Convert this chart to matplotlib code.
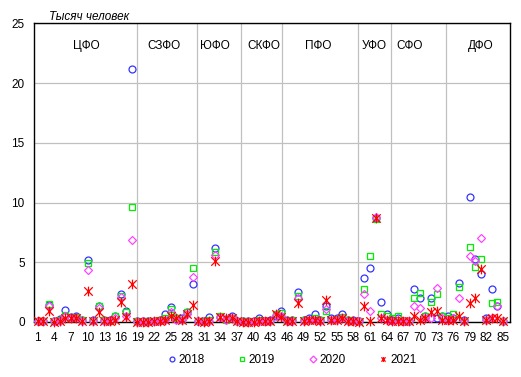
import matplotlib.pyplot as plt
from matplotlib.lines import Line2D
from matplotlib.path import Path

plt.rcParams['font.family'] = ['Liberation Sans', 'DejaVu Sans']
plt.rcParams['font.size'] = 8.5

regions = list(range(1, 86))
years = ["2018", "2019", "2020", "2021"]
districts = ["ЦФО", "СЗФО", "ЮФО", "СКФО", "ПФО", "УФО", "СФО", "ДФО"]
district_label_x = [9.7, 23.8, 33.0, 41.9, 51.7, 61.7, 68.1, 80.9]
district_bounds = [19.0, 29.85, 37.75, 45.1, 58.75, 64.75, 74.75]

# thousand people, by region (ЦФО, СЗФО, ЮФО, СКФО, ПФО, УФО, СФО, ДФО)
v2018 = [0.1, 0.1, 1.4, 0.1, 0.25, 1.0, 0.4, 0.5, 0.2, 5.2, 0.15, 1.3, 0.2, 0.15, 0.5, 2.3, 0.9, 21.2,
         0.05, 0.05, 0.05, 0.1, 0.2, 0.65, 1.25, 0.3, 0.3, 0.8, 3.2,
         0.1, 0.05, 0.4, 6.2, 0.4, 0.25, 0.5, 0.1,
         0.1, 0.05, 0.05, 0.3, 0.1, 0.15, 0.5,
         0.92, 0.15, 0.2, 2.5, 0.2, 0.3, 0.65, 0.2, 1.3, 0.3, 0.3, 0.65, 0.2, 0.2,
         0.1, 3.7, 4.5, 8.7, 1.7, 0.65,
         0.2, 0.3, 0.1, 0.1, 2.75, 2.0, 0.5, 2.0, 0.3, 0.5,
         0.5, 0.3, 3.3, 0.2, 10.45, 5.3, 4.0, 0.3, 2.8, 1.3, 0.1]
v2019 = [0.05, 0.1, 1.5, 0.05, 0.15, 0.6, 0.35, 0.4, 0.15, 4.9, 0.1, 1.35, 0.15, 0.1, 0.5, 2.2, 0.8, 9.6,
         0.05, 0.05, 0.05, 0.05, 0.15, 0.3, 1.1, 0.3, 0.2, 0.8, 4.5,
         0.05, 0.05, 0.15, 5.9, 0.5, 0.2, 0.35, 0.1,
         0.05, 0.05, 0.05, 0.15, 0.1, 0.1, 0.7,
         0.75, 0.1, 0.15, 2.2, 0.15, 0.2, 0.3, 0.15, 0.9, 0.2, 0.25, 0.4, 0.15, 0.1,
         0.05, 2.8, 5.55, 8.6, 0.7, 0.5,
         0.3, 0.5, 0.1, 0.1, 2.0, 2.46, 0.5, 1.65, 2.33, 0.5,
         0.3, 0.65, 2.95, 0.1, 6.25, 4.6, 5.3, 0.2, 1.6, 1.7, 0.1]
v2020 = [0.05, 0.05, 1.3, 0.05, 0.1, 0.5, 0.3, 0.3, 0.1, 4.35, 0.1, 1.2, 0.1, 0.1, 0.3, 2.1, 0.5, 6.9,
         0.0, 0.05, 0.0, 0.05, 0.1, 0.2, 0.8, 0.2, 0.2, 0.7, 3.8,
         0.05, 0.0, 0.1, 5.6, 0.4, 0.2, 0.3, 0.05,
         0.0, 0.0, 0.05, 0.1, 0.05, 0.1, 0.55,
         0.5, 0.1, 0.1, 2.0, 0.1, 0.2, 0.2, 0.1, 1.1, 0.2, 0.2, 0.3, 0.1, 0.1,
         0.05, 2.3, 0.95, 8.8, 0.3, 0.2,
         0.1, 0.2, 0.05, 0.05, 1.34, 1.15, 0.3, 0.3, 2.85, 0.3,
         0.2, 0.3, 2.0, 0.1, 5.55, 5.1, 7.0, 0.2, 0.3, 1.3, 0.1]
v2021 = [0.05, 0.05, 0.9, 0.0, 0.1, 0.3, 0.3, 0.3, 0.1, 2.6, 0.05, 0.8, 0.1, 0.05, 0.2, 1.7, 0.4, 3.2,
         0.0, 0.0, 0.0, 0.05, 0.1, 0.2, 0.5, 0.3, 0.2, 0.7, 1.45,
         0.05, 0.0, 0.1, 5.1, 0.4, 0.3, 0.3, 0.05,
         0.0, 0.0, 0.0, 0.1, 0.05, 0.1, 0.7,
         0.4, 0.1, 0.1, 1.6, 0.1, 0.2, 0.2, 0.1, 1.8, 0.2, 0.2, 0.3, 0.1, 0.05,
         0.0, 1.3, 0.05, 8.7, 0.3, 0.2,
         0.1, 0.1, 0.05, 0.1, 0.5, 0.2, 0.3, 0.8, 0.9, 0.2,
         0.2, 0.2, 0.5, 0.05, 1.55, 2.0, 4.4, 0.2, 0.3, 0.3, 0.05]

# Excel-style star: an X with a vertical stroke
star = Path([(-1, -1), (1, 1), (-1, 1), (1, -1), (0, -1.15), (0, 1.15)],
            [Path.MOVETO, Path.LINETO, Path.MOVETO, Path.LINETO, Path.MOVETO, Path.LINETO])

series = [v2018, v2019, v2020, v2021]
colors = ["#3333ff", "#00ee00", "#ff44ff", "#ff0000"]
markers = ["o", "s", "D", star]
sizes = [5, 5, 4, 7]

fig = plt.figure(figsize=(5.21, 3.77), dpi=100)
ax = fig.add_axes([0.0662, 0.146, 0.912, 0.7918])

for yr, vals, c, m, s in zip(years, series, colors, markers, sizes):
    ax.plot(regions, vals, ls="none", marker=m, ms=s, mfc="none", mec=c,
            mew=0.9, clip_on=False, zorder=3)

ax.set_xlim(0.43, 86.2)
ax.set_ylim(0, 25)
ax.set_xticks(range(1, 86, 3))
ax.set_yticks(range(0, 26, 5))
ax.tick_params(length=0, pad=7)
ax.yaxis.grid(True, color="#c0c0c0", lw=0.9)
for b in district_bounds:
    ax.axvline(b, color="#c0c0c0", lw=0.9, zorder=1)
ax.set_axisbelow(True)
for sp in ax.spines.values():
    sp.set_color("black")
    sp.set_linewidth(1)

for name, x in zip(districts, district_label_x):
    ax.text(x, 23.1, name, ha="center", va="center")

fig.text(49 / 521, 1 - 16.7 / 377, "Тысяч человек", style="italic",
         ha="left", va="center")

handles = [Line2D([], [], ls="none", marker=m, ms=3.5, mfc="none", mec=c, mew=0.9)
           for c, m in zip(colors, markers)]
fig.legend(handles, years, loc="center", bbox_to_anchor=(0.561, 0.045), ncol=4,
           frameon=False, handlelength=0.6, handletextpad=0.25, columnspacing=2.9)

fig.savefig("out.png", dpi=100)
